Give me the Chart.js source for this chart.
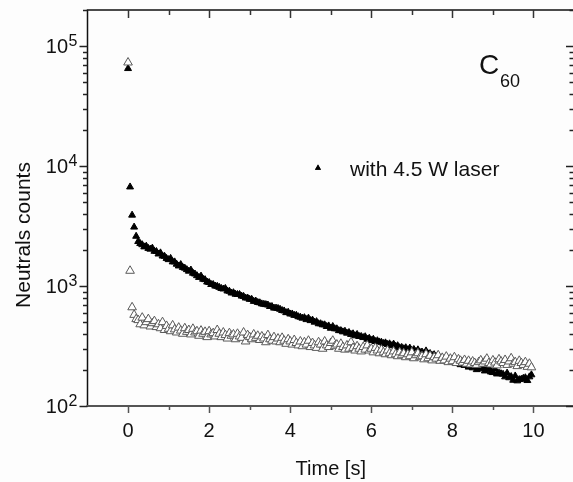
<!DOCTYPE html>
<html>
<head>
<meta charset="utf-8">
<script src="https://cdn.jsdelivr.net/npm/chart.js@4"></script>
<style>
  html, body { margin: 0; padding: 0; background: #fdfdfd; overflow: hidden; }
  #wrap { position: absolute; left: 0; top: 0; width: 580px; height: 482px; }
</style>
</head>
<body>
<div id="wrap"><canvas id="graph" width="580" height="482"></canvas></div>
<script>
// sampling step of the measurement (s)
const timeStep = 0.05;

// counts with the 4.5 W laser on (filled triangles)
const withLaser = [
  65000, 6700, 3900, 3100, 2600,
  2350, 2260, 2210, 2120, 2150, 2060, 2030, 2070, 1950, 1940,
  1850, 1890, 1780, 1770, 1700, 1660, 1700, 1590, 1590, 1520,
  1470, 1510, 1430, 1410, 1370, 1330, 1360, 1280, 1260, 1220,
  1180, 1210, 1140, 1130, 1080, 1070, 1030, 1030, 1000, 995,
  975, 955, 945, 955, 910, 905, 875, 880, 855, 850,
  850, 825, 820, 795, 795, 775, 775, 745, 750, 730,
  725, 710, 705, 700, 695, 675, 675, 655, 655, 650,
  640, 625, 620, 600, 605, 585, 585, 570, 570, 555,
  550, 540, 545, 525, 540, 515, 520, 500, 505, 485,
  485, 475, 475, 460, 465, 445, 460, 440, 440, 425,
  425, 415, 420, 405, 410, 395, 400, 385, 395, 380,
  380, 372, 378, 360, 367, 352, 360, 345, 350, 342,
  340, 332, 336, 326, 330, 318, 328, 314, 318, 306,
  308, 300, 306, 294, 304, 290, 296, 284, 294, 280,
  282, 274, 288, 272, 274, 264, 268, 258, 262, 250,
  252, 246, 252, 240, 244, 234, 240, 228, 232, 221,
  232, 218, 222, 211, 224, 208, 214, 201, 218, 204,
  207, 196, 202, 208, 192, 190, 203, 185, 188, 186,
  184, 175, 188, 172, 176, 164, 178, 162, 166, 167,
  170, 172, 163, 175, 182
];

// counts without laser (open triangles)
const withoutLaser = [
  73000, 1340, 665, 575, 530,
  520, 480, 545, 470, 500, 530, 460, 490, 510, 455,
  480, 445, 500, 430, 465, 440, 420, 470, 435, 410,
  450, 425, 400, 445, 415, 430, 395, 440, 410, 420,
  385, 425, 400, 415, 375, 420, 395, 405, 380, 430,
  400, 375, 410, 390, 365, 405, 385, 395, 360, 400,
  380, 370, 410, 345, 390, 375, 360, 395, 370, 385,
  355, 380, 365, 340, 390, 360, 350, 375, 345, 365,
  340, 370, 350, 330, 360, 345, 325, 355, 335, 320,
  345, 315, 340, 325, 350, 310, 335, 320, 305, 340,
  325, 300, 345, 320, 310, 335, 350, 315, 325, 300,
  330, 310, 295, 320, 300, 340, 305, 290, 315, 300,
  285, 310, 295, 320, 290, 300, 280, 305, 290, 275,
  295, 280, 270, 290, 275, 265, 285, 270, 260, 280,
  265, 275, 255, 270, 260, 280, 250, 265, 275, 255,
  260, 245, 270, 250, 262, 240, 255, 248, 265, 238,
  252, 240, 258, 232, 248, 236, 255, 228, 245, 238,
  230, 242, 225, 238, 222, 235, 228, 220, 232, 240,
  225, 235, 248, 228, 222, 240, 230, 218, 245, 235,
  228, 242, 220, 235, 250, 225, 232, 215, 238, 228,
  220, 232, 212, 225, 210
];

// axis ticks
const xMajorTicks = [0, 2, 4, 6, 8, 10];
const xMinorTicks = [1, 3, 5, 7, 9];
const yDecades = [2, 3, 4, 5];
const yMinorFactors = [2, 3, 4, 5, 6, 7, 8, 9];

const legendLabel = 'with 4.5 W laser';
const xTitle = 'Time [s]';
const yTitle = 'Neutrals counts';

const FONT = '"Liberation Sans", Arial, sans-serif';

function toPoints(values) {
  return values.map((v, i) => ({ x: +(i * timeStep).toFixed(2), y: v }));
}

// Draws the Origin-style frame, ticks, labels, legend and annotation
const frameDecor = {
  id: 'frameDecor',
  beforeDraw(chart) {
    const ctx = chart.ctx;
    ctx.save();
    ctx.fillStyle = '#fdfdfd';
    ctx.fillRect(0, 0, chart.width, chart.height);
    ctx.restore();
  },
  afterDraw(chart) {
    const { ctx, chartArea: a, scales } = chart;
    const xs = scales.x, ys = scales.y;
    ctx.save();

    // spines
    ctx.lineCap = 'butt';
    ctx.strokeStyle = '#111';
    ctx.lineWidth = 1.5;
    ctx.beginPath();
    ctx.moveTo(a.left, a.bottom); ctx.lineTo(a.left, a.top);
    ctx.lineTo(a.right, a.top); ctx.lineTo(a.right, a.bottom);
    ctx.stroke();
    ctx.strokeStyle = '#555';
    ctx.lineWidth = 2;
    ctx.beginPath();
    ctx.moveTo(a.left - 1, a.bottom); ctx.lineTo(a.right, a.bottom);
    ctx.stroke();

    // x ticks: outward at bottom, inward at top
    ctx.lineWidth = 1.5;
    const xTick = (v, len) => {
      const px = Math.round(xs.getPixelForValue(v)) + 0.5;
      ctx.strokeStyle = '#555';
      ctx.beginPath(); ctx.moveTo(px, a.bottom); ctx.lineTo(px, a.bottom + len); ctx.stroke();
      ctx.strokeStyle = '#333';
      ctx.beginPath(); ctx.moveTo(px, a.top); ctx.lineTo(px, a.top + len + 1); ctx.stroke();
    };
    xMajorTicks.forEach(v => xTick(v, 7));
    xMinorTicks.forEach(v => xTick(v, 4));

    // y ticks: outward at left, inward at right
    ctx.strokeStyle = '#222';
    const yTick = (v, len) => {
      const py = Math.round(ys.getPixelForValue(v)) + 0.5;
      if (py < a.top - 1 || py > a.bottom + 1) return;
      ctx.beginPath(); ctx.moveTo(a.left - len, py); ctx.lineTo(a.left, py); ctx.stroke();
      ctx.beginPath(); ctx.moveTo(a.right - len, py); ctx.lineTo(a.right, py); ctx.stroke();
    };
    yDecades.forEach(d => {
      yTick(Math.pow(10, d), 8);
      yMinorFactors.forEach(f => yTick(f * Math.pow(10, d), 4.5));
    });

    // x tick labels
    ctx.fillStyle = '#111';
    ctx.font = '20px ' + FONT;
    ctx.textAlign = 'center';
    ctx.textBaseline = 'middle';
    xMajorTicks.forEach(v => ctx.fillText(String(v), xs.getPixelForValue(v), 431));

    // y tick labels 10^n
    yDecades.forEach(d => {
      const py = ys.getPixelForValue(Math.pow(10, d));
      ctx.font = '20px ' + FONT;
      ctx.textAlign = 'right';
      ctx.textBaseline = 'middle';
      ctx.fillText('10', 68, py + 1);
      ctx.font = '16px ' + FONT;
      ctx.textAlign = 'left';
      ctx.textBaseline = 'alphabetic';
      ctx.fillText(String(d), 68.5, py);
    });

    // axis titles
    ctx.font = '20px ' + FONT;
    ctx.textAlign = 'center';
    ctx.textBaseline = 'middle';
    ctx.fillText(xTitle, (a.left + a.right) / 2, 469);
    ctx.save();
    ctx.translate(24, 235);
    ctx.rotate(-Math.PI / 2);
    ctx.font = '21px ' + FONT;
    ctx.fillText(yTitle, 0, 0);
    ctx.restore();

    // legend
    ctx.fillStyle = '#000';
    Chart.helpers.drawPoint(ctx, { pointStyle: 'triangle', radius: 3.5, rotation: 0, borderWidth: 0 }, 318, 168);
    ctx.fill();
    ctx.fillStyle = '#111';
    ctx.font = '21px ' + FONT;
    ctx.textAlign = 'left';
    ctx.textBaseline = 'middle';
    ctx.fillText(legendLabel, 350, 170);

    // C60 annotation
    ctx.textBaseline = 'alphabetic';
    ctx.font = '28px ' + FONT;
    ctx.fillText('C', 479, 74);
    ctx.font = '18px ' + FONT;
    ctx.fillText('60', 500, 87);

    ctx.restore();
  }
};

const ctx = document.getElementById('graph').getContext('2d');
new Chart(ctx, {
  type: 'scatter',
  data: {
    datasets: [
      {
        label: 'without laser',
        data: toPoints(withoutLaser),
        pointStyle: 'triangle',
        pointRadius: 5,
        backgroundColor: '#ffffff',
        borderColor: '#5a5a5a',
        borderWidth: 1
      },
      {
        label: legendLabel,
        data: toPoints(withLaser),
        pointStyle: 'triangle',
        pointRadius: 4,
        backgroundColor: '#000',
        borderColor: '#000',
        borderWidth: 1
      }
    ]
  },
  options: {
    responsive: false,
    animation: false,
    layout: { padding: { left: 87.5, right: 4.3, top: 10, bottom: 76 } },
    scales: {
      x: { type: 'linear', min: -1, max: 11, display: false },
      y: { type: 'logarithmic', min: 100, max: 200000, display: false }
    },
    plugins: {
      legend: { display: false },
      tooltip: { enabled: false }
    }
  },
  plugins: [frameDecor]
});
</script>
</body>
</html>
